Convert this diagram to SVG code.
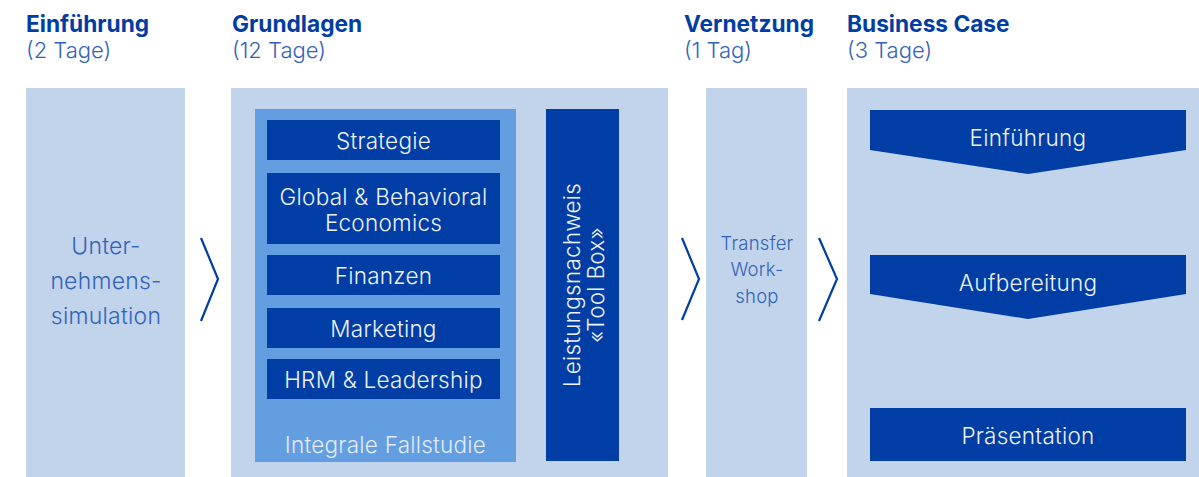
<svg xmlns="http://www.w3.org/2000/svg" width="1199" height="477" viewBox="0 0 1199 477">
<style>
.col{fill:#c1d4ec}
.dark{fill:#003da5}
.mid{fill:#629ee0}
.h{font-family:Inter,"Liberation Sans",sans-serif;font-weight:700;font-size:22.7px;fill:#003da5}
.s{font-family:Inter,"Liberation Sans",sans-serif;font-weight:300;font-size:22px;fill:#3363b8}
.w{font-family:Inter,"Liberation Sans",sans-serif;font-weight:300;font-size:22.5px;letter-spacing:0.25px;fill:#eef2fa;text-anchor:middle}
.c{font-family:Inter,"Liberation Sans",sans-serif;font-weight:300;font-size:23px;letter-spacing:0.2px;fill:#3363b8;text-anchor:middle}
.chev{fill:none;stroke:#003da5;stroke-width:2.2}
</style>
<rect width="1199" height="477" fill="#ffffff"/>
<g id="headers">
<text class="h" x="26" y="32">Einführung</text>
<text class="s" x="26" y="58">(2 Tage)</text>
<text class="h" x="232" y="32">Grundlagen</text>
<text class="s" x="232" y="58">(12 Tage)</text>
<text class="h" x="684" y="32">Vernetzung</text>
<text class="s" x="684" y="58">(1 Tag)</text>
<text class="h" x="847" y="32">Business Case</text>
<text class="s" x="847" y="58">(3 Tage)</text>
</g>
<g id="einfuehrung">
<rect class="col" x="26" y="88" width="159" height="389"/>
<text class="c" x="106" y="254">Unter-</text>
<text class="c" x="106" y="289">nehmens-</text>
<text class="c" x="106" y="324">simulation</text>
</g>
<g id="grundlagen">
<rect class="col" x="231" y="88" width="437" height="389"/>
<rect class="mid" x="255" y="109" width="261" height="353"/>
<g id="strategie"><rect class="dark" x="267" y="120" width="233" height="40"/><text class="w" x="383.5" y="149">Strategie</text></g>
<g id="economics"><rect class="dark" x="267" y="173" width="233" height="71"/><text class="w" x="383.5" y="205">Global &amp; Behavioral</text><text class="w" x="383.5" y="231">Economics</text></g>
<g id="finanzen"><rect class="dark" x="267" y="255" width="233" height="40"/><text class="w" x="383.5" y="284">Finanzen</text></g>
<g id="marketing"><rect class="dark" x="267" y="308" width="233" height="40"/><text class="w" x="383.5" y="337">Marketing</text></g>
<g id="hrm"><rect class="dark" x="267" y="359" width="233" height="40"/><text class="w" x="383.5" y="388">HRM &amp; Leadership</text></g>
<text class="w" x="385.5" y="453" style="fill:#e3ecfa">Integrale Fallstudie</text>
<g id="toolbox"><rect class="dark" x="546" y="109" width="73" height="352"/>
<text class="w" transform="translate(580 285) rotate(-90)" x="0" y="0">Leistungsnachweis</text>
<text class="w" transform="translate(604 285) rotate(-90)" x="0" y="0">«Tool Box»</text></g>
</g>
<g id="vernetzung">
<rect class="col" x="706" y="88" width="101" height="389"/>
<text class="c" x="757" y="250" style="font-size:18.5px">Transfer</text>
<text class="c" x="757" y="276" style="font-size:18.5px">Work-</text>
<text class="c" x="757" y="303" style="font-size:18.5px">shop</text>
</g>
<g id="businesscase">
<rect class="col" x="847" y="88" width="352" height="389"/>
<g id="bc-einfuehrung"><polygon class="dark" points="870,110 1186,110 1186,150 1028,174 870,150"/><text class="w" x="1028" y="146">Einführung</text></g>
<g id="bc-aufbereitung"><polygon class="dark" points="870,255 1186,255 1186,294 1028,319 870,294"/><text class="w" x="1028" y="291">Aufbereitung</text></g>
<g id="bc-praesentation"><rect class="dark" x="870" y="408" width="316" height="53"/><text class="w" x="1028" y="444">Präsentation</text></g>
</g>
<g id="connectors">
<polyline class="chev" points="201,238 218,279 201,321"/>
<polyline class="chev" points="682,238 699,279 682,320"/>
<polyline class="chev" points="819,238 837,279 819,321"/>
</g>
</svg>
